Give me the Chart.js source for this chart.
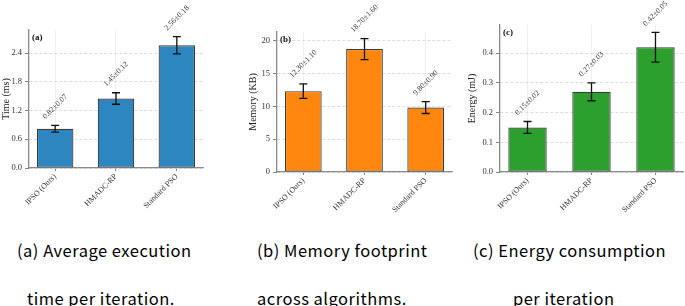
<!DOCTYPE html>
<html lang="en">

<head>
    <meta charset="UTF-8">
    <title>Algorithm comparison</title>
    <script src="https://cdn.jsdelivr.net/npm/chart.js"></script>
    <style>
        body {
            margin: 0;
            background: #fff;
            width: 685px;
            height: 306px;
            position: relative;
            overflow: hidden;
        }

        canvas {
            position: absolute;
            top: 0;
        }

        .cap {
            position: absolute;
            font-family: "Noto Sans CJK JP", "Noto Sans", sans-serif;
            font-size: 16.5px;
            font-weight: 400;
            letter-spacing: 0.5px;
            line-height: 20px;
            color: #000;
            white-space: nowrap;
        }
    </style>
</head>

<body>
    <canvas id="chartA" width="228" height="230" style="left:0px"></canvas>
    <canvas id="chartB" width="228" height="230" style="left:228px"></canvas>
    <canvas id="chartC" width="228" height="230" style="left:457px"></canvas>

    <div class="cap" style="left:17px;top:240px">(a) Average execution</div>
    <div class="cap" style="left:27px;top:288px">time per iteration.</div>
    <div class="cap" style="left:257px;top:240px">(b) Memory footprint</div>
    <div class="cap" style="left:257px;top:288px">across algorithms.</div>
    <div class="cap" style="left:473px;top:240px">(c) Energy consumption</div>
    <div class="cap" style="left:513px;top:288px">per iteration</div>

    <script>
        const algorithms = ['IPSO (Ours)', 'HMADC-RP', 'Standard PSO'];

        const timeMean = [0.82, 1.45, 2.56];
        const timeStd = [0.07, 0.12, 0.18];
        const timeTicks = [0, 0.6, 1.2, 1.8, 2.4];

        const memoryMean = [12.30, 18.70, 9.80];
        const memoryStd = [1.10, 1.60, 0.90];
        const memoryTicks = [0, 5, 10, 15, 20];

        const energyMean = [0.15, 0.27, 0.42];
        const energyStd = [0.02, 0.03, 0.05];
        const energyTicks = [0, 0.1, 0.2, 0.3, 0.4];

        Chart.defaults.font.family = '"Liberation Serif", serif';
        Chart.defaults.color = '#333';

        // error bars, rotated value labels and the (a)/(b)/(c) tag
        const barExtras = {
            id: 'barExtras',
            afterDatasetsDraw(chart, args, opts) {
                const ctx = chart.ctx;
                const xs = chart.scales.x;
                const ys = chart.scales.y;
                const means = chart.data.datasets[0].data.map(p => p.y);

                means.forEach((m, i) => {
                    const s = opts.std[i];
                    const x = xs.getPixelForValue(i);
                    const top = ys.getPixelForValue(m + s);
                    const bot = ys.getPixelForValue(m - s);

                    ctx.save();
                    ctx.strokeStyle = '#111';
                    ctx.lineWidth = 1.3;
                    ctx.beginPath();
                    ctx.moveTo(x, top); ctx.lineTo(x, bot);
                    ctx.moveTo(x - 4, top); ctx.lineTo(x + 4, top);
                    ctx.moveTo(x - 4, bot); ctx.lineTo(x + 4, bot);
                    ctx.stroke();

                    const txt = m.toFixed(2) + '\u00b1' + s.toFixed(2);
                    ctx.font = '7.8px "Liberation Serif"';
                    const w = ctx.measureText(txt).width;
                    const half = (w + 7) / (2 * Math.SQRT2);
                    ctx.translate(x, top - 5 - half);
                    ctx.rotate(-Math.PI / 4);
                    ctx.fillStyle = '#333';
                    ctx.textAlign = 'center';
                    ctx.textBaseline = 'middle';
                    ctx.fillText(txt, 0, 0);
                    ctx.restore();
                });

                const area = chart.chartArea;
                ctx.save();
                ctx.font = 'bold 9px "Liberation Serif"';
                ctx.fillStyle = '#111';
                ctx.textBaseline = 'middle';
                ctx.fillText(opts.letter, area.left + 3, area.top + 8);
                ctx.restore();
            }
        };

        function makePanel(id, means, std, ticks, yMax, digits, yTitle, color, letter, geo) {
            new Chart(document.getElementById(id), {
                type: 'bar',
                data: {
                    datasets: [{
                        data: means.map((v, i) => ({ x: i, y: v })),
                        backgroundColor: color,
                        borderColor: '#3a3a3a',
                        borderWidth: 1.2,
                        borderSkipped: false,
                        barPercentage: 0.6,
                        categoryPercentage: 1
                    }]
                },
                options: {
                    responsive: false,
                    animation: false,
                    layout: { padding: { left: 0, right: geo.right, top: geo.top, bottom: 0 } },
                    plugins: {
                        legend: { display: false },
                        tooltip: { enabled: false },
                        barExtras: { std: std, letter: letter }
                    },
                    scales: {
                        x: {
                            type: 'linear',
                            min: -0.43,
                            max: 2.43,
                            offset: false,
                            afterBuildTicks: s => { s.ticks = algorithms.map((_, i) => ({ value: i })); },
                            afterFit: s => { s.height = geo.xh; },
                            ticks: {
                                callback: v => algorithms[v],
                                minRotation: 45,
                                maxRotation: 45,
                                autoSkip: false,
                                font: { size: 8 },
                                padding: 1
                            },
                            grid: { offset: false, color: '#ececec', lineWidth: 0.8, tickLength: 3, tickColor: '#666', tickWidth: 0.8 },
                            border: { color: '#8a8a8a', width: 1.3 }
                        },
                        y: {
                            min: 0,
                            max: yMax,
                            afterBuildTicks: s => { s.ticks = ticks.map(v => ({ value: v })); },
                            afterFit: s => { s.width = geo.yw; },
                            ticks: {
                                callback: v => v.toFixed(digits),
                                font: { size: 8.5 },
                                padding: 3
                            },
                            title: {
                                display: true,
                                text: yTitle,
                                font: { size: 10 },
                                color: '#222',
                                padding: { top: geo.tp, bottom: 0 }
                            },
                            grid: { color: '#d4d4d4', lineWidth: 0.8, tickLength: 4, tickColor: '#666', tickWidth: 0.8, tickBorderDash: [] },
                            border: { color: '#8a8a8a', width: 1.3, dash: [3, 2] }
                        }
                    }
                },
                plugins: [barExtras]
            });
        }

        makePanel('chartA', timeMean, timeStd, timeTicks, 2.88, 1, 'Time (ms)', '#2e86c1', '(a)',
            { yw: 29, right: 25, top: 30, xh: 62, tp: 0 });
        makePanel('chartB', memoryMean, memoryStd, memoryTicks, 21.3, 0, 'Memory (KB)', '#ff860f', '(b)',
            { yw: 49, right: 4, top: 32, xh: 58, tp: 19 });
        makePanel('chartC', energyMean, energyStd, energyTicks, 0.495, 1, 'Energy (mJ)', '#2ca02c', '(c)',
            { yw: 43, right: 2, top: 25, xh: 58, tp: 9 });
    </script>
</body>

</html>
